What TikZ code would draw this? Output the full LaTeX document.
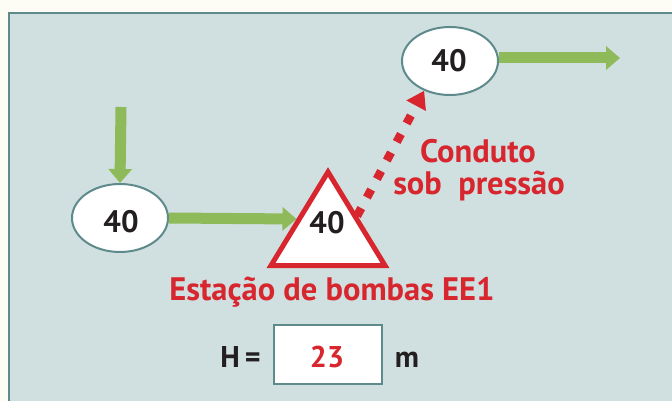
\documentclass[tikz,border=0pt]{standalone}
\usepackage{fontspec}
\setmainfont{PT Sans}
\usetikzlibrary{arrows.meta,shapes.geometric}
\definecolor{bgout}{HTML}{FDFDF6}
\definecolor{panelc}{HTML}{D0DFDF}
\definecolor{tealc}{HTML}{5E8A8C}
\definecolor{grn}{HTML}{8FBA5A}
\definecolor{rd}{HTML}{D7262E}
\definecolor{ink}{HTML}{231F20}
\begin{document}
\begin{tikzpicture}[x=1pt,y=-1pt,
  ell/.style={ellipse,draw=tealc,line width=2pt,fill=white,minimum width=96pt,minimum height=68pt,inner sep=0pt},
  num/.style={anchor=base,text=ink,inner sep=0pt,font=\bfseries\fontsize{31}{31}\selectfont},
  redtxt/.style={anchor=base,text=rd,inner sep=0pt,font=\bfseries\fontsize{32.5}{32.5}\selectfont},
  bottxt/.style={anchor=base,inner sep=0pt,font=\bfseries\fontsize{30}{30}\selectfont},
  garrow/.style={draw=grn,line width=11pt,-{Triangle[width=23pt,length=14pt]}},
  rarrow/.style={draw=rd,line width=8.5pt,dash pattern=on 9pt off 12pt,-{Triangle[width=21pt,length=17pt]}},
  resbox/.style={draw=tealc,line width=2pt,fill=white,minimum width=108pt,minimum height=59pt,inner sep=0pt}
]
\useasboundingbox (0,0) rectangle (672,401);
\clip (0,0) rectangle (672,401);
\fill[bgout] (0,0) rectangle (672,401);
\draw[tealc,fill=panelc,line width=2pt] (9,13) rectangle (700,430);

% nodes
\node[ell] (A) at (120,218) {};
\node[num] (Alab) at (121,232) {40};
\node[ell] (B) at (450,61) {};
\node[num] (Blab) at (449,72) {40};

\coordinate (in) at (121,107);
\coordinate (T1) at (328,172);
\coordinate (T2) at (271,265.5);
\coordinate (T3) at (385,265.5);
\coordinate (Tin) at (296.5,219);
\coordinate (S) at (357,216);
\coordinate (out) at (620,58);

% green arrows
\draw[garrow] (in) -- (A.north);
\draw[garrow] (A.east) -- (Tin);
\draw[garrow] ([yshift=3pt]B.east) -- (out);

% pump station
\draw[rd,line width=5pt,fill=white,line join=miter] (T1) -- (T2) -- (T3) -- cycle;
\node[num] (Tlab) at (327,233) {40};

% pressure main
\draw[rarrow] (S) -- (B.229);

% labels
\node[redtxt] (c1) at (478,163) {Conduto};
\node[redtxt] (c2) at (479,194) {sob\ \ pressão};
\node[redtxt] (est) at (332,300) {Estação de bombas EE1};

\node[resbox] (H) at (328,354) {};
\node[bottxt,text=rd] (Hval) at (327,367) {23};
\node[bottxt,text=ink] (Hlab) at (240.5,367) {H\,=};
\node[bottxt,text=ink] (Hunit) at (407,367) {m};
\end{tikzpicture}
\end{document}
